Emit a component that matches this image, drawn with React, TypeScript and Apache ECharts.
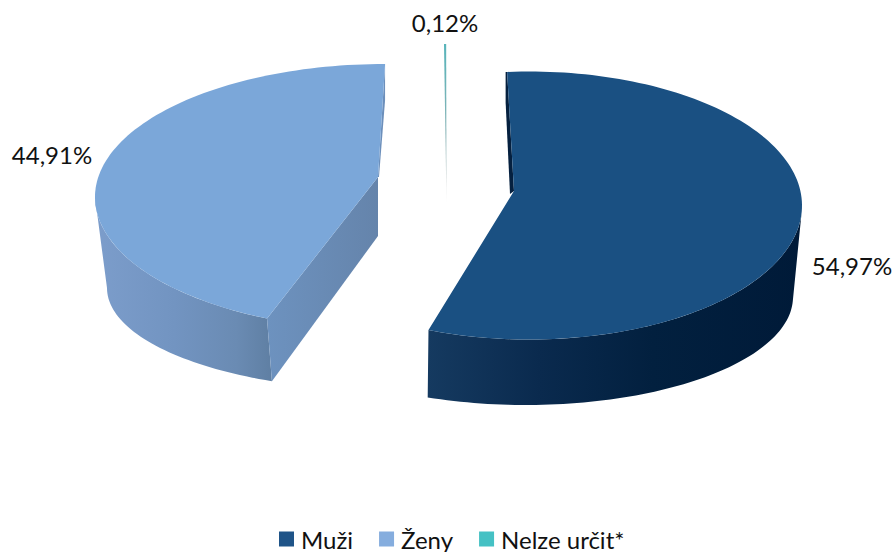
import React, { useEffect, useRef } from "react";
import * as echarts from "echarts";

const categories = ["Muži", "Ženy", "Nelze určit*"];
const shares = [54.97, 44.91, 0.12];
const legendColors = ["#1F5488", "#85ADDE", "#45C1C4"];

const FONT = "Lato";
const H = (stops: [number, string][]) =>
  new echarts.graphic.LinearGradient(0, 0, 1, 0, stops.map(([offset, color]) => ({ offset, color })));
const V = (stops: [number, string][]) =>
  new echarts.graphic.LinearGradient(0, 0, 0, 1, stops.map(([offset, color]) => ({ offset, color })));

type Ell = { cx: number; cy: number; rx: number; ry: number };
const rim = (e: Ell, deg: number): number[] => {
  const t = (deg * Math.PI) / 180;
  return [e.cx + e.rx * Math.sin(t), e.cy - e.ry * Math.cos(t)];
};
const arc = (e: Ell, a: number, b: number): number[][] => {
  const n = Math.max(2, Math.ceil(Math.abs(b - a) / 1.5));
  const out: number[][] = [];
  for (let i = 0; i <= n; i++) out.push(rim(e, a + ((b - a) * i) / n));
  return out;
};

// Drawing geometry of each exploded, perspective slice (not data).
const geometry = [
  {
    top: { cx: 529, cy: 205.5, rx: 273, ry: 134 },
    low: { cx: 526, cy: 297, rx: 267, ry: 108 },
    startT: -4.6,
    stretch: 1.042,
    apex: [514, 191],
    faceFill: "#1A5082",
    label: { x: 852, y: 265 },
  },
  {
    top: { cx: 385, cy: 197, rx: 290, ry: 133 },
    low: { cx: 385, cy: 288, rx: 278, ry: 102 },
    startT: 204,
    stretch: 0.965,
    apex: [378, 177],
    faceFill: "#7BA7D9",
    label: { x: 52, y: 154 },
  },
  {
    top: { cx: 445, cy: 178, rx: 290, ry: 134 },
    low: null,
    startT: -0.2,
    stretch: 1,
    apex: [446.5, 205],
    faceFill: V([
      [0, "#58B4BA"],
      [0.55, "#86B3B6"],
      [0.85, "#C9CFCF"],
      [1, "#F4F4F4"],
    ]),
    label: { x: 445, y: 22 },
  },
];

const poly = (points: number[][], fill: any) => ({
  type: "polygon",
  shape: { points },
  style: { fill },
  silent: true,
});

const makeRender = (idx: number) => (_: any, api: any) => {
  const value = api.value(0) as number;
  const g = geometry[idx];
  const sweep = (value / 100) * 360 * g.stretch;
  const tA = g.startT;
  const tB = g.startT + sweep;
  const children: any[] = [];

  if (idx === 0) {
    children.push(
      poly(
        [...arc(g.top, 92, tB), ...arc(g.low, tB, 92)],
        H([
          [0, "#153A60"],
          [0.3, "#0A2A4E"],
          [0.6, "#02203F"],
          [1, "#001A38"],
        ])
      )
    );
    const s = rim(g.top, tA);
    children.push(
      poly(
        [
          [s[0] - 1.5, s[1]],
          s,
          g.apex,
          [g.apex[0] - 4, g.apex[1] + 3],
          [s[0] - 1.5, s[1] + 30],
        ],
        "#05203F"
      )
    );
  }
  if (idx === 1) {
    children.push(
      poly(
        [...arc(g.top, tA, 270), ...arc(g.low, 270, tA)],
        H([
          [0, "#7C9DCB"],
          [0.45, "#7294C1"],
          [0.8, "#6A8BB3"],
          [1, "#5F7FA3"],
        ])
      )
    );
    const s = rim(g.top, tA);
    const l = rim(g.low, tA);
    children.push(
      poly(
        [s, g.apex, [g.apex[0], g.apex[1] + 59], l],
        H([
          [0, "#6D92BF"],
          [1, "#6584AB"],
        ])
      )
    );
    const e = rim(g.top, tB);
    children.push(
      poly([e, [e[0], e[1] + 36], [g.apex[0] + 1, g.apex[1]], g.apex], "#6C8FBB")
    );
  }

  children.push(poly([g.apex, ...arc(g.top, tA, tB)], g.faceFill));

  const text = value.toFixed(2).replace(".", ",") + "%";
  children.push({
    type: "text",
    silent: true,
    style: {
      text,
      x: g.label.x,
      y: g.label.y,
      align: "center",
      verticalAlign: "middle",
      font: `24px ${FONT}`,
      fill: "#111111",
    },
  });
  return { type: "group", children };
};

export default function App() {
  const ref = useRef<HTMLDivElement>(null);
  useEffect(() => {
    const chart = echarts.init(ref.current!, undefined, { renderer: "svg" });
    chart.setOption({
      animation: false,
      backgroundColor: "#FFFFFF",
      legend: {
        data: categories,
        left: 274,
        top: 522,
        padding: [5, 5, 0, 5],
        icon: "rect",
        itemWidth: 15,
        itemHeight: 15,
        itemGap: 26,
        textStyle: { fontFamily: FONT, fontSize: 24, color: "#111111", padding: [0, 0, 0, 2], lineHeight: 24 },
      },
      series: categories.map((name, i) => ({
        type: "custom",
        name,
        coordinateSystem: "none",
        itemStyle: { color: legendColors[i] },
        data: [[shares[i]]],
        renderItem: makeRender(i),
        silent: true,
      })),
    });
    return () => chart.dispose();
  }, []);
  return <div ref={ref} style={{ position: "absolute", left: 0, top: 0, width: 896, height: 552 }} />;
}
